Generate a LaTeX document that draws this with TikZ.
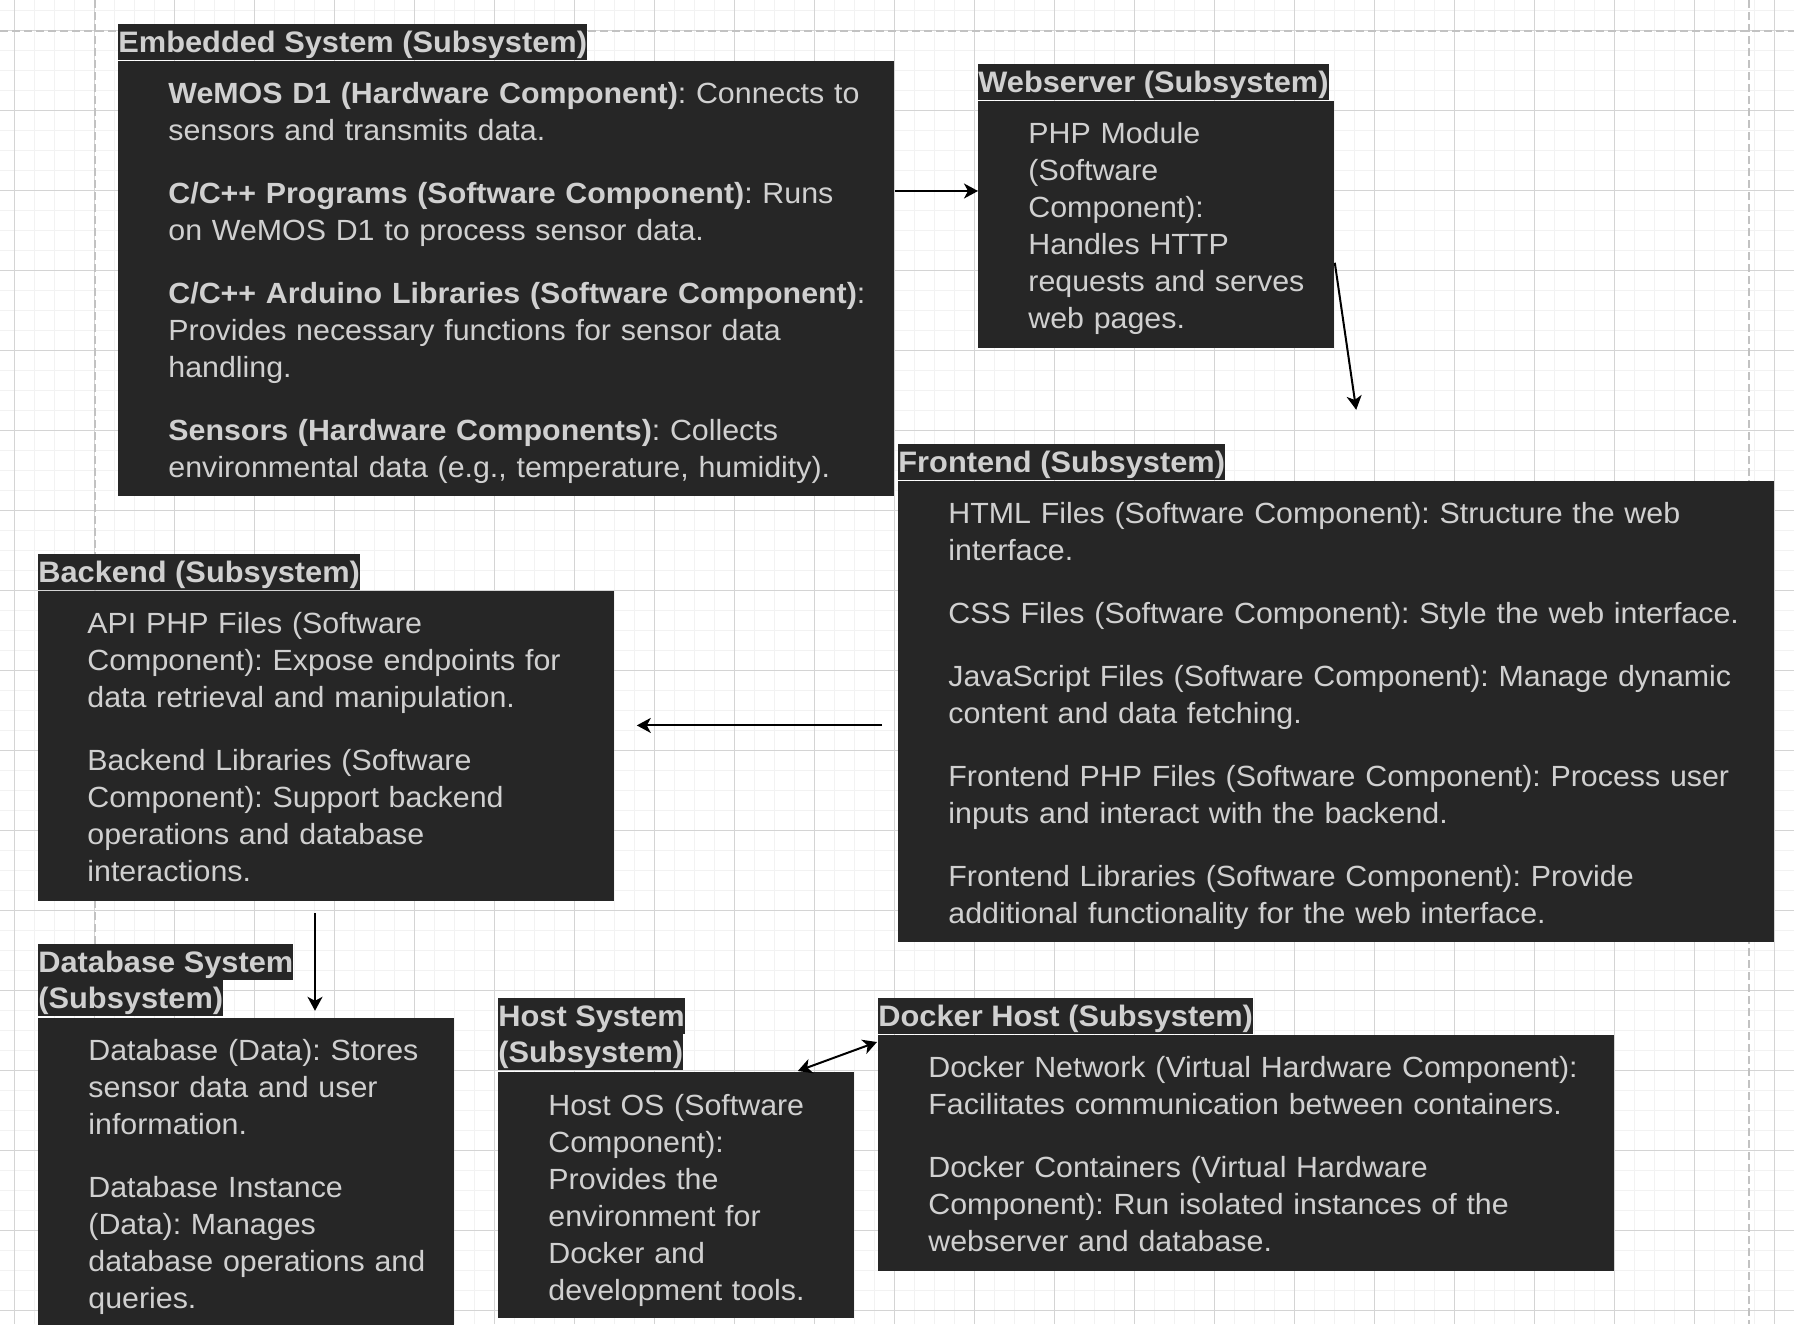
\documentclass[tikz,border=0pt]{standalone}
\usepackage{fontspec}
\setmainfont{Liberation Sans}[FakeStretch=1.04]
\usetikzlibrary{arrows.meta,positioning}
\frenchspacing

\definecolor{boxbg}{HTML}{262626}
\definecolor{boxfg}{HTML}{D0D0D0}
\definecolor{gridmin}{HTML}{F2F2F2}
\definecolor{gridmaj}{HTML}{D4D4D4}
\definecolor{pageline}{HTML}{C2C2C2}

\tikzset{
  subbox/.style={fill=boxbg, anchor=north west, inner sep=0pt},
  subtitle/.style={fill=boxbg, text=boxfg, anchor=north west, inner sep=0pt,
    text height=13.85pt, text depth=4.15pt, font=\bfseries\fontsize{14.8pt}{18.5pt}\selectfont},
  subtext/.style={text=boxfg, anchor=base west, inner sep=0pt, align=left,
    text width=460pt, font=\fontsize{14.6pt}{18.5pt}\selectfont},
  arr/.style={-{Stealth[length=7pt,width=7.5pt,inset=2pt]}, line width=1pt},
  dblarr/.style={{Stealth[length=7pt,width=7.5pt,inset=2pt]}-{Stealth[length=7pt,width=7.5pt,inset=2pt]}, line width=1pt},
}

\begin{document}
\begin{tikzpicture}[x=0.5pt,y=-0.5pt]
\useasboundingbox[fill=white] (0,0) rectangle (1794,1324);

% grid
\foreach \i in {0,...,90} \draw[gridmin, line width=0.5pt] ({-5.7+20*\i},0) -- ++(0,1324);
\foreach \i in {0,...,66} \draw[gridmin, line width=0.5pt] (0,{10+20*\i}) -- ++(1794,0);
\foreach \i in {0,...,22} \draw[gridmaj, line width=0.5pt] ({14.3+80*\i},0) -- ++(0,1324);
\foreach \i in {0,...,16} \draw[gridmaj, line width=0.5pt] (0,{30+80*\i}) -- ++(1794,0);
\draw[pageline, line width=0.8pt, dash pattern=on 4pt off 2pt] (0,30.7) -- (1794,30.7);
\draw[pageline, line width=0.8pt, dash pattern=on 4pt off 2pt] (95,0) -- (95,1324);
\draw[pageline, line width=0.8pt, dash pattern=on 4pt off 2pt] (1749,0) -- (1749,1324);

% subsystems
\node[subtitle] (embtitle) at (118,24) {Embedded System (Subsystem)};
\node[subbox, minimum width=388pt, minimum height=217.5pt] (emb) at (118,61) {};
\node[subtext] (embtext) at (168,103) {\textbf{WeMOS D1 (Hardware Component)}: Connects to\\ sensors and transmits data.\\[13pt]
\textbf{C/C++ Programs (Software Component)}: Runs\\ on WeMOS D1 to process sensor data.\\[13pt]
\textbf{C/C++ Arduino Libraries (Software Component)}:\\ Provides necessary functions for sensor data\\ handling.\\[13pt]
\textbf{Sensors (Hardware Components)}: Collects\\ environmental data (e.g., temperature, humidity).};

\node[subtitle] (webtitle) at (978,64) {Webserver (Subsystem)};
\node[subbox, minimum width=178pt, minimum height=123.5pt] (web) at (978,101) {};
\node[subtext] (webtext) at (1028,143) {PHP Module\\ (Software\\ Component):\\ Handles HTTP\\ requests and serves\\ web pages.};

\node[subtitle] (fronttitle) at (898,444) {Frontend (Subsystem)};
\node[subbox, minimum width=438pt, minimum height=230.5pt] (front) at (898,481) {};
\node[subtext] (fronttext) at (948,523) {HTML Files (Software Component): Structure the web\\ interface.\\[13pt]
CSS Files (Software Component): Style the web interface.\\[13pt]
JavaScript Files (Software Component): Manage dynamic\\ content and data fetching.\\[13pt]
Frontend PHP Files (Software Component): Process user\\ inputs and interact with the backend.\\[13pt]
Frontend Libraries (Software Component): Provide\\ additional functionality for the web interface.};

\node[subtitle] (backtitle) at (38,554) {Backend (Subsystem)};
\node[subbox, minimum width=288pt, minimum height=155pt] (back) at (38,591) {};
\node[subtext] (backtext) at (87,633) {API PHP Files (Software\\ Component): Expose endpoints for\\ data retrieval and manipulation.\\[13pt]
Backend Libraries (Software\\ Component): Support backend\\ operations and database\\ interactions.};

\node[subtitle] (dbtitle) at (38,944) {Database System\ };
\node[subtitle] (dbtitleb) at (38,980) {(Subsystem)};
\node[subbox, minimum width=207.75pt, minimum height=156pt] (db) at (38,1018) {};
\node[subtext] (dbtext) at (88,1060) {Database (Data): Stores\\ sensor data and user\\ information.\\[13pt]
Database Instance\\ (Data): Manages\\ database operations and\\ queries.};

\node[subtitle] (hosttitle) at (498,998) {Host System\ };
\node[subtitle] (hosttitleb) at (498,1034) {(Subsystem)};
\node[subbox, minimum width=177.8pt, minimum height=123pt] (host) at (498,1072) {};
\node[subtext] (hosttext) at (548,1115) {Host OS (Software\\ Component):\\ Provides the\\ environment for\\ Docker and\\ development tools.};

\node[subtitle] (docktitle) at (878,998) {Docker Host (Subsystem)};
\node[subbox, minimum width=368pt, minimum height=118pt] (dock) at (878,1035) {};
\node[subtext] (docktext) at (928,1077) {Docker Network (Virtual Hardware Component):\\ Facilitates communication between containers.\\[13pt]
Docker Containers (Virtual Hardware\\ Component): Run isolated instances of the\\ webserver and database.};

% connectors
\draw[arr] ([yshift=-65pt]emb.north east) -- ([yshift=-65pt]emb.north east -| web.west);
\draw[arr] ([yshift=43pt]web.south east) -- ([xshift=10.7pt,yshift=-30.5pt]web.south east);
\draw[arr] ([xshift=-8pt,yshift=-6.75pt]front.west) -- ([xshift=11pt,yshift=-6.75pt]front.west -| back.east);
\draw[arr] ([xshift=-5.7pt,yshift=-5.5pt]back.south) -- ([xshift=-5.7pt,yshift=-54.5pt]back.south);
\draw[dblarr] ([xshift=-28.3pt,yshift=0.5pt]host.north east) -- ([xshift=-0.5pt,yshift=-3.5pt]dock.north west);
\end{tikzpicture}
\end{document}
